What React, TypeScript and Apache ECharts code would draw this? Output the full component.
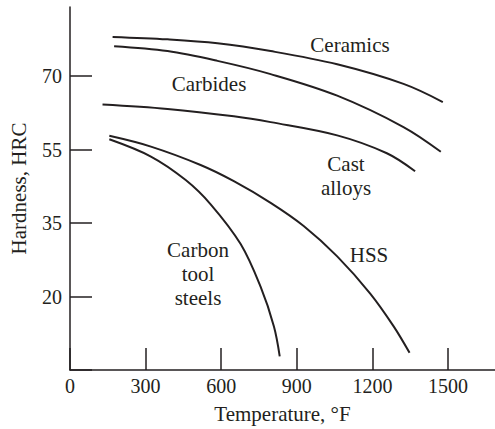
import React, { useEffect, useRef } from "react";
import * as echarts from "echarts";

// Y axis tick labels (HRC), drawn at equal spacing on the chart
const yTickLabels = [20, 35, 55, 70];
const xTicks = [0, 300, 600, 900, 1200, 1500];

// Curves: [temperature °F, hardness HRC]
const ceramics = [
  [169, 78.0], [387, 77.5], [585, 76.7], [796, 75.1], [1060, 72.4], [1323, 68.4], [1479, 64.7],
];
const carbides = [
  [175, 76.1], [387, 75.1], [585, 73.1], [796, 70.4], [1060, 66.0], [1323, 59.6], [1471, 54.4],
];
const castAlloys = [
  [129, 64.2], [387, 63.3], [650, 61.8], [796, 60.6], [1060, 57.9], [1257, 54.0], [1369, 49.1],
];
const hss = [
  [156, 57.8], [321, 55.6], [518, 50.8], [650, 46.4], [796, 40.5], [927, 34.4],
  [1060, 28.2], [1191, 20.6], [1284, 13.9], [1347, 8.5],
];
const carbonToolSteels = [
  [156, 57.1], [321, 53.1], [459, 46.7], [558, 40.1], [677, 30.7], [756, 22.0], [809, 13.9], [832, 7.8],
];

// Map an HRC value onto the equally spaced tick positions (tick k at position k+1)
function hrcToPos(v: number): number {
  const t = yTickLabels;
  if (v <= t[0]) return 1 + (v - t[0]) / (t[1] - t[0]);
  for (let k = 0; k < t.length - 1; k++) {
    if (v <= t[k + 1]) return k + 1 + (v - t[k]) / (t[k + 1] - t[k]);
  }
  const n = t.length;
  return n + (v - t[n - 1]) / (t[n - 1] - t[n - 2]);
}

const INK = "#231f20";
const FONT = "Liberation Serif";

export default function App() {
  const ref = useRef<HTMLDivElement>(null);
  useEffect(() => {
    if (!ref.current) return;
    const chart = echarts.init(ref.current, undefined, { renderer: "svg" });
    const mk = (name: string, d: number[][]) => ({
      name,
      type: "line",
      smooth: 0.35,
      showSymbol: false,
      symbol: "none",
      lineStyle: { color: INK, width: 2 },
      data: d.map(([x, y]) => [x, hrcToPos(y)]),
    });
    const txt = (text: string, x: number, y: number) => ({
      type: "text",
      x,
      y,
      style: {
        text,
        fill: INK,
        font: `21px "${FONT}"`,
        textAlign: "center",
        textVerticalAlign: "middle",
        lineHeight: 24,
      },
    });
    chart.setOption({
      animation: false,
      backgroundColor: "#ffffff",
      grid: { left: 69, right: 0, top: 7, bottom: 55 },
      xAxis: {
        type: "value",
        min: 0,
        max: 1686,
        interval: 300,
        name: "Temperature, °F",
        nameLocation: "middle",
        nameGap: 33,
        nameTextStyle: { color: INK, fontFamily: FONT, fontSize: 21 },
        axisLine: { show: true, lineStyle: { color: INK, width: 1.5 } },
        axisTick: { show: true, inside: true, length: 22, lineStyle: { color: INK, width: 1.5 } },
        axisLabel: {
          color: INK,
          fontFamily: FONT,
          fontSize: 20,
          margin: 6,
          showMaxLabel: false,
          formatter: (v: number) => (xTicks.includes(v) ? String(v) : ""),
        },
        splitLine: { show: false },
      },
      yAxis: {
        type: "value",
        min: 0,
        max: 4.94,
        interval: 1,
        name: "Hardness, HRC",
        nameLocation: "middle",
        nameGap: 41,
        nameTextStyle: { color: INK, fontFamily: FONT, fontSize: 21 },
        axisLine: { show: true, lineStyle: { color: INK, width: 1.5 } },
        axisTick: { show: true, inside: true, length: 22, lineStyle: { color: INK, width: 1.5 } },
        axisLabel: {
          color: INK,
          fontFamily: FONT,
          fontSize: 20,
          margin: 8,
          showMaxLabel: false,
          formatter: (v: number) => {
            const k = Math.round(v) - 1;
            return k >= 0 && k < yTickLabels.length ? String(yTickLabels[k]) : "";
          },
        },
        splitLine: { show: false },
      },
      series: [
        mk("Ceramics", ceramics),
        mk("Carbides", carbides),
        mk("Cast alloys", castAlloys),
        mk("HSS", hss),
        mk("Carbon tool steels", carbonToolSteels),
      ],
      graphic: [
        txt("Ceramics", 350, 45),
        txt("Carbides", 209, 84),
        txt("Cast\nalloys", 346, 176),
        txt("HSS", 369, 255),
        txt("Carbon\ntool\nsteels", 198, 274),
      ],
    });
    return () => chart.dispose();
  }, []);
  return (
    <div
      ref={ref}
      style={{ position: "fixed", left: 0, top: 0, width: 495, height: 429 }}
    />
  );
}
